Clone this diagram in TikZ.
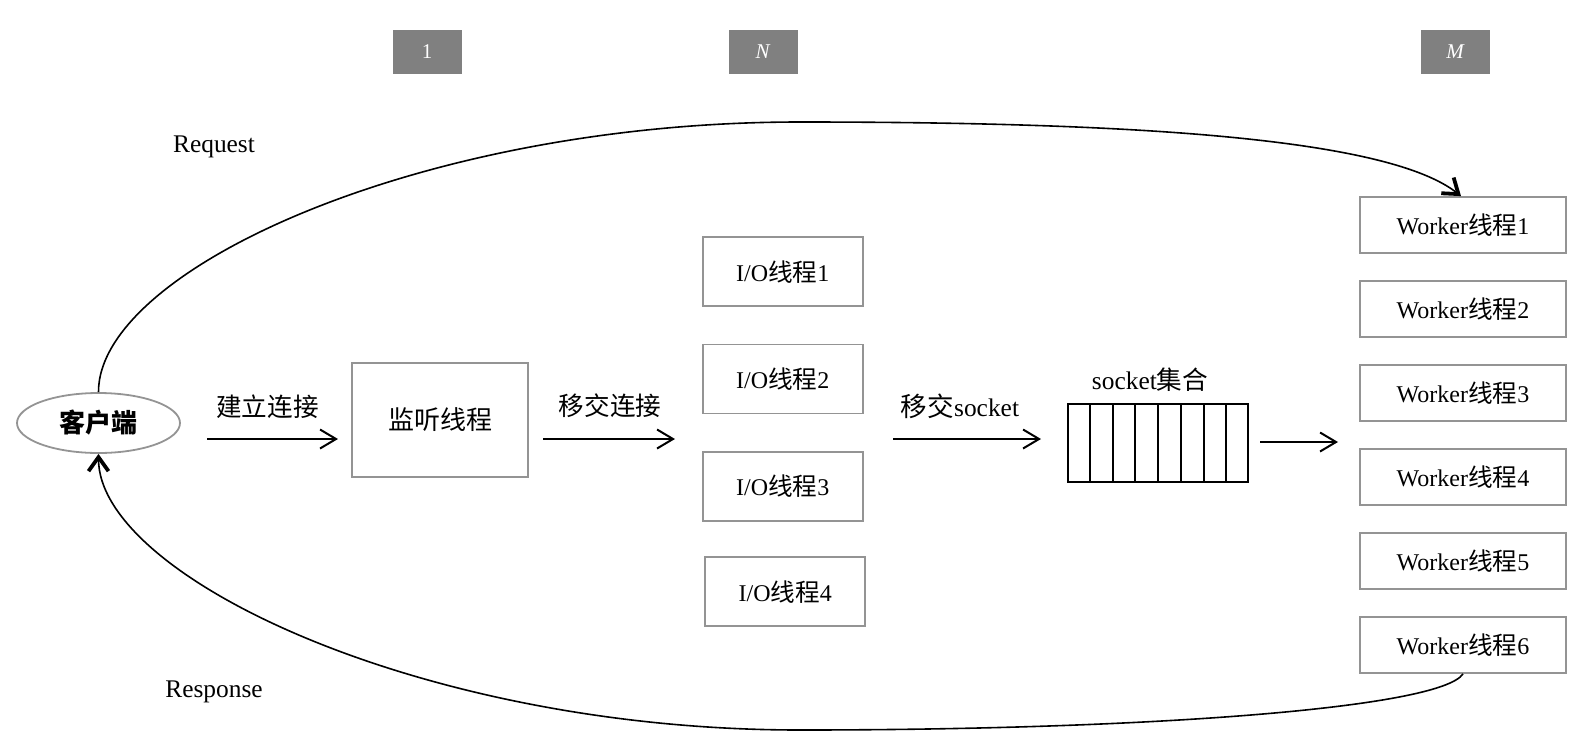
\documentclass[tikz,border=0pt]{standalone}
\usepackage{fontspec}
\setmainfont{Liberation Serif}
\newfontfamily\cjk{Noto Sans CJK SC}
\usetikzlibrary{arrows.meta,shapes.geometric,calc}
\newcommand{\zh}[1]{{\cjk\fontsize{12.3}{15}\selectfont #1}}
\begin{document}
\begin{tikzpicture}[x=0.5pt,y=-0.5pt,
  box/.style={draw=black!42, line width=0.9pt, inner sep=0pt, font=\fontsize{12}{15}\selectfont},
  workerbox/.style={box, minimum width=103pt, minimum height=28pt},
  iobox/.style={box, minimum width=80pt, minimum height=34.5pt},
  tagbox/.style={fill=black!50, text=white, inner sep=0pt, minimum width=34.5pt, minimum height=22pt, font=\fontsize{10.5}{12}\selectfont},
  lbl/.style={inner sep=0pt, font=\fontsize{12.7}{15}\selectfont},
  zhlbl/.style={inner sep=0pt, font=\fontsize{12.8}{15}\selectfont\cjk},
  flow/.style={line width=1pt, -{Straight Barb[length=8pt,width=9.5pt,line width=1pt]}},
  loop/.style={line width=0.8pt, -{Straight Barb[length=7pt,width=10pt,line width=1.9pt]}}
]
\useasboundingbox (0,0) rectangle (1580,750);

% tags
\node[tagbox] (g1) at (427,52) {1};
\node[tagbox] (gN) at (763,52) {\textit{N}};
\node[tagbox] (gM) at (1455.5,52) {\textit{M}};

% client
\node[ellipse, draw=black!42, line width=0.9pt, minimum width=81.5pt, minimum height=30pt, inner sep=0pt,
      font=\fontsize{13}{15}\selectfont\cjk\bfseries] (client) at (98.5,423) {客户端};

% listener
\node[box, minimum width=88pt, minimum height=57pt, font=\fontsize{13}{15}\selectfont\cjk] (listen) at (440,420) {监听线程};

% IO threads
\node[iobox] (io1) at (782.7,271.7) {I/O\zh{线程}1};
\node[iobox] (io2) at (782.7,379) {I/O\zh{线程}2};
\node[iobox] (io3) at (782.7,486.3) {I/O\zh{线程}3};
\node[iobox] (io4) at (785.3,591.7) {I/O\zh{线程}4};

% socket set
\node[draw=black, line width=1pt, minimum width=90pt, minimum height=39pt, inner sep=0pt] (sock) at (1158,443) {};
\foreach \k in {1,...,7} {
  \draw[line width=1pt] ($(sock.north west)!\k/8!(sock.north east)$) -- ($(sock.south west)!\k/8!(sock.south east)$);
}
\node[lbl] (socklbl) at (1150,380) {socket{\cjk\fontsize{12.8}{15}\selectfont 集合}};

% workers
\node[workerbox] (w1) at (1463,225) {Worker\zh{线程}1};
\node[workerbox] (w2) at (1463,309) {Worker\zh{线程}2};
\node[workerbox] (w3) at (1463,393) {Worker\zh{线程}3};
\node[workerbox] (w4) at (1463,477) {Worker\zh{线程}4};
\node[workerbox] (w5) at (1463,561) {Worker\zh{线程}5};
\node[workerbox] (w6) at (1463,645) {Worker\zh{线程}6};

% labels
\node[zhlbl] (l1) at (267.5,407) {建立连接};
\node[zhlbl] (l2) at (610,406) {移交连接};
\node[lbl] (l3) at (960,406) {{\cjk\fontsize{13.3}{15}\selectfont 移交}socket};
\node[lbl] (req) at (214,147) {Request};
\node[lbl] (resp) at (214,692) {Response};

% flow arrows
\coordinate (a1s) at (207,439); \coordinate (a1e) at (338,439);
\coordinate (a2s) at (543,439); \coordinate (a2e) at (675,439);
\coordinate (a3s) at (893,439); \coordinate (a3e) at (1041,439);
\coordinate (a4s) at (1260,442); \coordinate (a4e) at (1338,442);
\draw[flow] (a1s) -- (a1e);
\draw[flow] (a2s) -- (a2e);
\draw[flow] (a3s) -- (a3e);
\draw[flow] (a4s) -- (a4e);

% request / response loops
\coordinate (rtop) at (800,122);
\coordinate (rbot) at (800,730);
\draw[loop] (client.north) .. controls (98,270) and (420,122) .. (rtop)
  .. controls (1150,122) and (1390,140) .. ([xshift=-1pt]w1.north);
\draw[loop] (w6.south) .. controls (1440,708) and (1150,730) .. (rbot)
  .. controls (420,730) and (98.5,576) .. (client.south);
\end{tikzpicture}
\end{document}
